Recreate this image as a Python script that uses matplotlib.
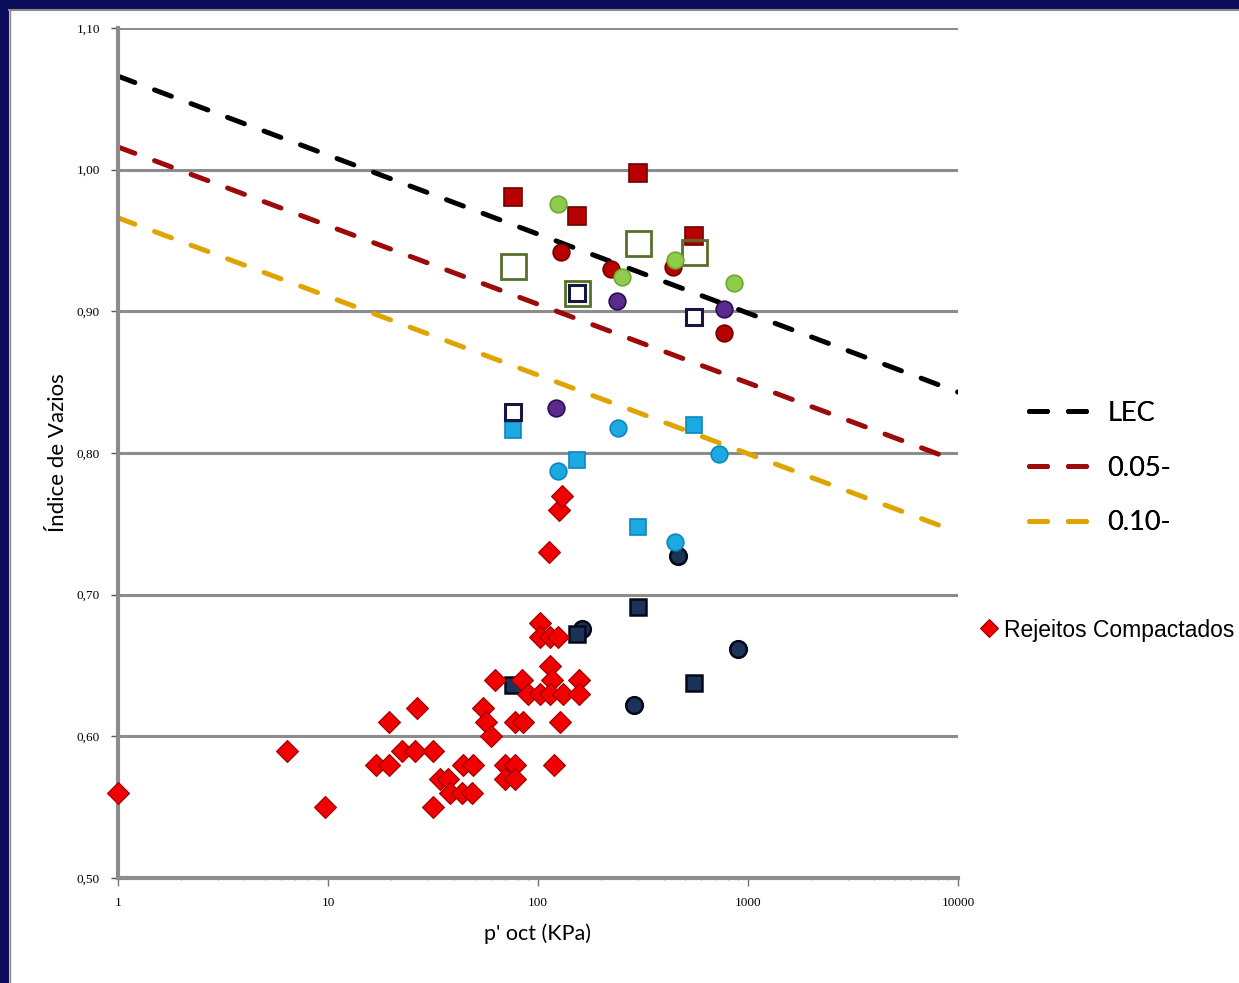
import matplotlib.pyplot as plt
from matplotlib.patches import Rectangle
from matplotlib.lines import Line2D
from matplotlib.ticker import FixedLocator, FixedFormatter, LogLocator, NullFormatter

# state lines (LEC and offsets)
line_x = [1, 10000]
lec_y = [1.066, 0.843]
e005_y = [1.016, 0.794]
e010_y = [0.966, 0.744]

# test series
navy_circ_x = [162, 286, 464, 896]
navy_circ_y = [0.676, 0.622, 0.727, 0.662]
navy_sq_x = [76, 153, 299, 553]
navy_sq_y = [0.636, 0.672, 0.691, 0.638]
blue_circ_x = [124.5, 240, 449, 728]
blue_circ_y = [0.787, 0.818, 0.737, 0.799]
blue_sq_x = [76, 153, 299, 553]
blue_sq_y = [0.816, 0.795, 0.748, 0.820]
purple_x = [122, 238, 769]
purple_y = [0.832, 0.907, 0.902]
red_circ_x = [129, 223, 439, 769]
red_circ_y = [0.942, 0.930, 0.931, 0.885]
red_sq_x = [76, 153, 299, 553]
red_sq_y = [0.981, 0.967, 0.998, 0.953]
green_sq_x = [76, 153, 299, 553]
green_sq_y = [0.932, 0.913, 0.948, 0.942]
open_sq_x = [76, 153, 553]
open_sq_y = [0.829, 0.913, 0.896]
green_circ_x = [124.5, 251, 449, 858]
green_circ_y = [0.976, 0.924, 0.936, 0.920]

# rejeitos compactados
rej_x = [1, 6.36, 9.68, 16.9, 19.6, 19.6, 22.4, 26.6, 25.9, 31.5, 31.5, 34.1,
         37.4, 38.1, 43.3, 44.1, 48.3, 49.2, 55, 56.8, 60, 62.6, 69.6, 69.6,
         77.7, 77.7, 77.7, 85, 83.5, 90, 102, 102, 114, 125, 114, 116, 157,
         102, 114, 131, 157, 127, 119, 113, 126, 130]
rej_y = [0.56, 0.59, 0.55, 0.58, 0.58, 0.61, 0.59, 0.62, 0.59, 0.59, 0.55, 0.57,
         0.57, 0.56, 0.56, 0.58, 0.56, 0.58, 0.62, 0.61, 0.60, 0.64, 0.58, 0.57,
         0.58, 0.57, 0.61, 0.61, 0.64, 0.63, 0.68, 0.67, 0.67, 0.67, 0.65, 0.64, 0.64,
         0.63, 0.63, 0.63, 0.63, 0.61, 0.58, 0.73, 0.76, 0.77]

yticks = [0.5, 0.6, 0.7, 0.8, 0.9, 1.0, 1.1]
ytick_labels = ['0,50', '0,60', '0,70', '0,80', '0,90', '1,00', '1,10']
xticks = [1, 10, 100, 1000, 10000]
xtick_labels = ['1', '10', '100', '1000', '10000']

fig = plt.figure(figsize=(12.39, 9.83), dpi=100)
fig.patch.set_facecolor('white')
ax = fig.add_axes([118 / 1239, 105 / 983, 840 / 1239, 850 / 983])

# frame decoration (slide background)
navy = '#0b0c5c'
fig.patches.append(Rectangle((0, 1 - 8 / 983), 1, 8 / 983, transform=fig.transFigure, color=navy, zorder=0))
fig.patches.append(Rectangle((0, 0), 8 / 1239, 1, transform=fig.transFigure, color=navy, zorder=0))
fig.add_artist(Line2D([9 / 1239, 1], [1 - 10 / 983] * 2, color='#8a8a8a', lw=1.5))
fig.add_artist(Line2D([10 / 1239] * 2, [0, 1 - 10 / 983], color='#8a8a8a', lw=1.0))

ax.set_xscale('log')
ax.set_xlim(1, 10000)
ax.set_ylim(0.5, 1.1)

for yv in yticks[1:]:
    ax.axhline(yv, color='#8c8c8c', lw=2.2, zorder=1)

dash = (3.6, 4.2)
l1, = ax.plot(line_x, lec_y, color='black', lw=3.6, dashes=dash, dash_capstyle='round', zorder=2, label='LEC')
l2, = ax.plot(line_x, e005_y, color='#9c0a0a', lw=3.6, dashes=dash, dash_capstyle='round', zorder=2, label='0.05-')
l3, = ax.plot(line_x, e010_y, color='#e0a400', lw=3.6, dashes=dash, dash_capstyle='round', zorder=2, label='0.10-')

mk = dict(ls='none', clip_on=False, zorder=3)
ax.plot(navy_circ_x, navy_circ_y, 'o', ms=12, mfc='#1c3358', mec='#05081a', mew=1.8, **mk)
ax.plot(navy_sq_x, navy_sq_y, 's', ms=12, mfc='#1c3358', mec='#05081a', mew=1.8, **mk)
ax.plot(blue_circ_x, blue_circ_y, 'o', ms=12, mfc='#1ca9e2', mec='#0c86bb', mew=1.2, **mk)
ax.plot(blue_sq_x, blue_sq_y, 's', ms=12, mfc='#1ca9e2', mec='#0c86bb', mew=1.2, **mk)
ax.plot(purple_x, purple_y, 'o', ms=12, mfc='#5a2a8e', mec='#2a0e4e', mew=1.2, **mk)
ax.plot(red_circ_x, red_circ_y, 'o', ms=12, mfc='#b80000', mec='#700000', mew=1.2, **mk)
ax.plot(red_sq_x, red_sq_y, 's', ms=12.5, mfc='#b80000', mec='#700000', mew=1.2, **mk)
ax.plot(green_sq_x, green_sq_y, 's', ms=18, mfc='none', mec='#56702a', mew=2.0, **mk)
ax.plot(open_sq_x, open_sq_y, 's', ms=11, mfc='white', mec='#161640', mew=2.2, **mk)
ax.plot(green_circ_x, green_circ_y, 'o', ms=12, mfc='#8fcc4c', mec='#6ca832', mew=1.2, **mk)
rej, = ax.plot(rej_x, rej_y, 'D', ms=11, mfc='#f00000', mec='#9a0000', mew=0.8, ls='none', zorder=4,
               clip_on=False, label='Rejeitos Compactados')

# axes styling
for s in ['top', 'right']:
    ax.spines[s].set_visible(False)
ax.spines['left'].set_color('#8c8c8c')
ax.spines['left'].set_linewidth(3)
ax.spines['bottom'].set_color('#8c8c8c')
ax.spines['bottom'].set_linewidth(3)

ax.yaxis.set_major_locator(FixedLocator(yticks))
ax.yaxis.set_major_formatter(FixedFormatter(ytick_labels))
ax.xaxis.set_major_locator(FixedLocator(xticks))
ax.xaxis.set_major_formatter(FixedFormatter(xtick_labels))
ax.xaxis.set_minor_locator(LogLocator(base=10, subs=range(2, 10)))
ax.xaxis.set_minor_formatter(NullFormatter())
ax.tick_params(axis='y', length=5, width=1, color='#555555', labelsize=9.5, pad=8)
ax.tick_params(axis='x', which='major', length=6, width=1, color='#777777', labelsize=9.5, pad=8)
ax.tick_params(axis='x', which='minor', length=3, width=0.8, color='#999999', direction='inout')
for lab in ax.get_xticklabels() + ax.get_yticklabels():
    lab.set_fontfamily('Liberation Serif')

ax.set_xlabel("p' oct (KPa)", fontsize=15.5, family='Lato', labelpad=10)
ax.set_ylabel('Índice de Vazios', fontsize=16, family='Lato', labelpad=6)

leg1 = fig.legend(handles=[l1, l2, l3], loc='center left', bbox_to_anchor=(1029 / 1239, 1 - 468 / 983),
                  frameon=False, prop={'family': 'Lato', 'size': 19.5}, handlelength=2.3,
                  handletextpad=0.6, labelspacing=1.1, borderpad=0, borderaxespad=0)
leg2 = fig.legend(handles=[rej], loc='center left', bbox_to_anchor=(982 / 1239, 1 - 630 / 983),
                  frameon=False, prop={'family': 'Liberation Sans', 'size': 16.5}, handlelength=0.6,
                  handletextpad=0.35, borderpad=0, borderaxespad=0, markerscale=0.8)
fig.add_artist(leg1)

fig.savefig('out.png', dpi=100)
